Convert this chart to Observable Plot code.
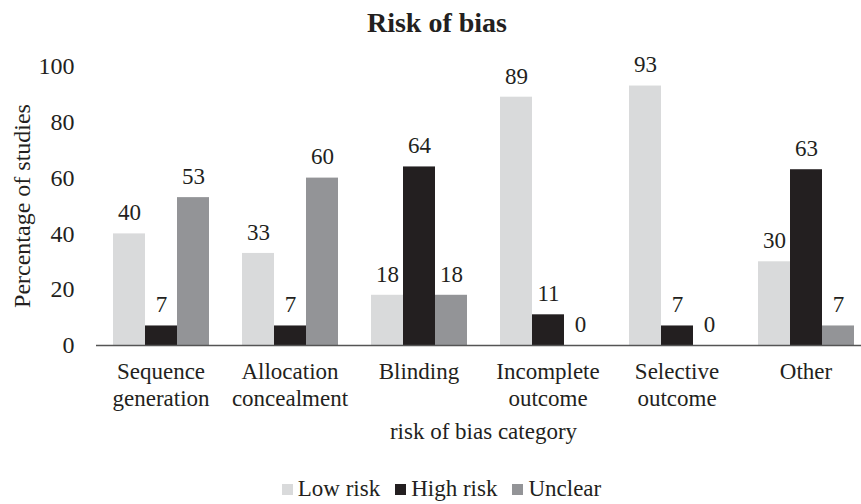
<!DOCTYPE html>
<html>
<head>
<meta charset="utf-8">
<script src="https://cdn.jsdelivr.net/npm/d3@7"></script>
<script src="https://cdn.jsdelivr.net/npm/@observablehq/plot@0.6"></script>
<style>
  html, body { margin: 0; padding: 0; background: #fff; }
  body { width: 861px; height: 504px; overflow: hidden; font-family: "Liberation Serif", "DejaVu Serif", serif; color: #231f20; }
  #title { height: 45px; line-height: 46px; text-align: center; font-weight: bold; font-size: 28px; padding-left: 13px; box-sizing: border-box; width: 861px; }
  #legend { display: flex; justify-content: center; align-items: center; gap: 15px; font-size: 23px; margin-top: 27px; padding-left: 22px; line-height: 24px; }
  .item { display: flex; align-items: center; gap: 5px; }
  .sw { width: 11px; height: 11px; display: inline-block; }
  svg text { font-family: "Liberation Serif", "DejaVu Serif", serif; }
</style>
</head>
<body>
<div id="title">Risk of bias</div>
<div id="chart"></div>
<div id="legend"></div>
<script>
const categories = ["Sequence generation", "Allocation concealment", "Blinding", "Incomplete outcome", "Selective outcome", "Other"];
const categoryLabels = ["Sequence\ngeneration", "Allocation\nconcealment", "Blinding", "Incomplete\noutcome", "Selective\noutcome", "Other"];
const seriesNames = ["Low risk", "High risk", "Unclear"];
const lowRisk = [40, 33, 18, 89, 93, 30];
const highRisk = [7, 7, 64, 11, 7, 63];
const unclear = [53, 60, 18, 0, 0, 7];
const seriesColors = ["#d9dadb", "#231f20", "#939497"];
const yTicks = [0, 20, 40, 60, 80, 100];

const seriesValues = [lowRisk, highRisk, unclear];
const data = [];
categories.forEach((c, i) => {
  seriesNames.forEach((s, j) => {
    data.push({category: c, series: s, value: seriesValues[j][i]});
  });
});
const labelOf = new Map(categories.map((c, i) => [c, categoryLabels[i]]));

const chart = Plot.plot({
  width: 861,
  height: 405,
  marginLeft: 94,
  marginRight: -11,
  marginTop: 21,
  marginBottom: 105,
  style: {fontFamily: "'Liberation Serif', 'DejaVu Serif', serif", color: "#231f20", background: "#fff"},
  fx: {domain: categories, padding: 0},
  x: {domain: seriesNames, paddingInner: 0, paddingOuter: 0.5, axis: null},
  y: {domain: [0, 100]},
  color: {domain: seriesNames, range: seriesColors},
  marks: [
    Plot.barY(data, {fx: "category", x: "series", y: "value", fill: "series", inset: 0}),
    Plot.text(data, {fx: "category", x: "series", y: "value", text: d => String(d.value), dy: -21, fontSize: 23, fill: "#231f20"}),
    Plot.ruleY([0], {stroke: "#555", strokeWidth: 1.5}),
    Plot.axisY({ticks: yTicks, tickSize: 0, tickPadding: 22, fontSize: 24, label: "Percentage of studies", labelAnchor: "center", labelArrow: "none", labelOffset: 84, line: true}),
    Plot.axisFx({anchor: "bottom", tickFormat: d => labelOf.get(d), tickSize: 0, tickPadding: 15, fontSize: 23, lineHeight: 1.15, label: "risk of bias category", labelAnchor: "center", labelArrow: "none", labelOffset: 93})
  ]
});
document.getElementById("chart").appendChild(chart);

const legend = document.getElementById("legend");
seriesNames.forEach((s, j) => {
  const item = document.createElement("span");
  item.className = "item";
  const sw = document.createElement("span");
  sw.className = "sw";
  sw.style.background = seriesColors[j];
  const t = document.createElement("span");
  t.textContent = s;
  item.appendChild(sw);
  item.appendChild(t);
  legend.appendChild(item);
});
</script>
</body>
</html>
